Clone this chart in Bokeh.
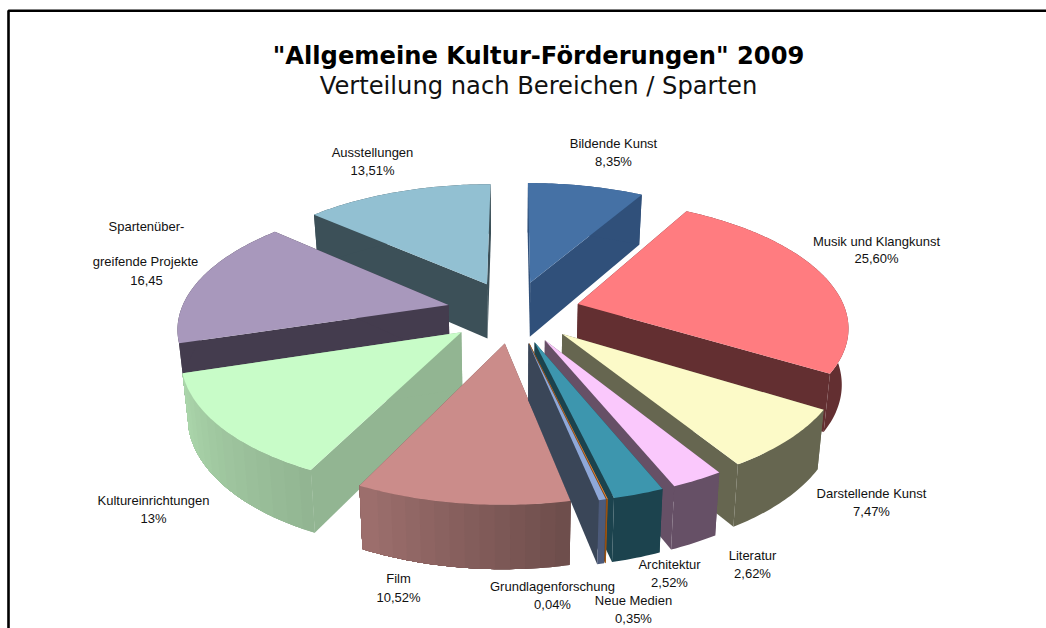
import math
from bokeh.plotting import figure
from bokeh.models import Range1d
from bokeh.core.properties import value
from bokeh.embed import file_html
from bokeh.resources import INLINE

# ---- data (clockwise from 12 o'clock) ----
categories = ["Bildende Kunst", "Musik und Klangkunst", "Darstellende Kunst", "Literatur",
              "Architektur", "Grundlagenforschung", "Neue Medien", "Film",
              "Kultureinrichtungen", "Spartenüber-\n\ngreifende Projekte", "Ausstellungen"]
values = [8.35, 25.60, 7.47, 2.62, 2.52, 0.04, 0.35, 10.52, 13.0, 16.45, 13.51]
value_labels = ["8,35%", "25,60%", "7,47%", "2,62%", "2,52%", "0,04%", "0,35%",
                "10,52%", "13%", "16,45", "13,51%"]

# ---- styles ----
top_colors = ["#4571a5", "#ff7c80", "#fcfac8", "#fac8fc", "#3d96ae", "#f79646", "#8fa8d8",
              "#cb8c8a", "#c8fcc8", "#a898bc", "#92c0d2"]
side_colors = ["#30507a", "#632f31", "#666650", "#665066", "#1c434e", "#8a4a10", "#3a4658",
               "#6e4e4c", "#92b592", "#443c4e", "#3c5058"]
rim_start = ["#30507a", "#632f31", "#666650", "#665066", "#1c434e", "#a85a10", "#4c5a7a",
             "#6e4e4c", "#92b592", "#443c4e", "#3c5058"]
rim_end = ["#30507a", "#632f31", "#666650", "#665066", "#1c434e", "#a85a10", "#4c5a7a",
           "#9c6e6c", "#abd6ab", "#443c4e", "#3c5058"]
paint_order = [10, 0, 9, 1, 8, 2, 7, 3, 4, 5, 6]

label_pos = [(613, 143, 161), (876, 241, 258), (871, 493, 511), (752, 555, 573), (669, 564, 582),
             (552, 586, 604), (633, 600, 618), (398, 578, 597), (153, 500, 518), (146, 226, 280),
             (372, 152, 170)]

# ---- projection of the tilted pie ----
CX, CY, A, B, K, EXPLODE = 513.0, 311.0, 268.0, 124.0, 0.16, 0.25


def project(x, v):
    s = 1.0 / (1.0 - K * v)
    return CX + A * x * s, CY + B * v * s


def lower(pt):
    x, y = pt
    return CX + (x - CX) * 0.98, y + 50 + (y - 193) * 0.046


def mix(c1, c2, t):
    a = [int(c1[i:i + 2], 16) for i in (1, 3, 5)]
    b = [int(c2[i:i + 2], 16) for i in (1, 3, 5)]
    return "#%02x%02x%02x" % tuple(round(p + (q - p) * t) for p, q in zip(a, b))


total = sum(values)
angles = [0.0]
for val in values:
    angles.append(angles[-1] + val / total * 2 * math.pi)

xs, ys, cols = [], [], []


def add(points, col):
    xs.append([q[0] for q in points])
    ys.append([q[1] for q in points])
    cols.append(col)


for i in paint_order:
    a0, a1 = angles[i], angles[i + 1]
    mid = (a0 + a1) / 2
    ox, ov = EXPLODE * math.sin(mid), -EXPLODE * math.cos(mid)
    apex = project(ox, ov)
    n = max(4, int((a1 - a0) / 0.015))
    rim = []
    for j in range(n + 1):
        t = a0 + (a1 - a0) * j / n
        rim.append(project(ox + math.sin(t), ov - math.cos(t)))
    # radial walls
    add([apex, rim[0], lower(rim[0]), lower(apex)], side_colors[i])
    add([apex, rim[-1], lower(rim[-1]), lower(apex)], side_colors[i])
    # outer wall: whole, then shaded bands that each run to the slice's end, so no seams show
    add(rim + [lower(q) for q in reversed(rim)], rim_start[i])
    if rim_start[i] != rim_end[i]:
        bands = 14
        for b in range(bands):
            tail = rim[n * b // bands:]
            add(tail + [lower(q) for q in reversed(tail)], mix(rim_start[i], rim_end[i], b / (bands - 1)))
    # top face
    add([apex] + rim, top_colors[i])

p = figure(width=1046, height=628, x_range=Range1d(0, 1046), y_range=Range1d(628, 0),
           output_backend="svg", toolbar_location=None, min_border=0,
           background_fill_color="white", border_fill_color="white", outline_line_color=None)
p.axis.visible = False
p.grid.visible = False

# frame
p.line([8, 8, 1046], [628, 10.2, 10.2], line_color="black", line_width=2.6)

p.patches(xs, ys, fill_color=cols, line_color=None)

# labels
lx, ly, lt = [], [], []
for cat, val, (x, y1, y2) in zip(categories, value_labels, label_pos):
    parts = [c for c in cat.split("\n") if c]
    if len(parts) == 2:
        lx += [x, x - 1, x]
        ly += [y1, y1 + 35, y2]
        lt += [parts[0], parts[1], val]
    else:
        lx += [x, x]
        ly += [y1, y2]
        lt += [parts[0], val]
p.text(lx, ly, text=lt, text_font=value("Liberation Sans"), text_font_size="13px",
       text_align="center", text_baseline="middle", text_color="#111111")

p.text([538], [55], text=['"Allgemeine Kultur-Förderungen" 2009'], text_font=value("DejaVu Sans"),
       text_font_style="bold", text_font_size="24.2px", text_align="center",
       text_baseline="middle", text_color="black")
p.text([538], [85], text=["Verteilung nach Bereichen / Sparten"], text_font=value("DejaVu Sans"),
       text_font_size="24.2px", text_align="center", text_baseline="middle", text_color="#111111")

open("out.html", "w").write(file_html(p, INLINE))
